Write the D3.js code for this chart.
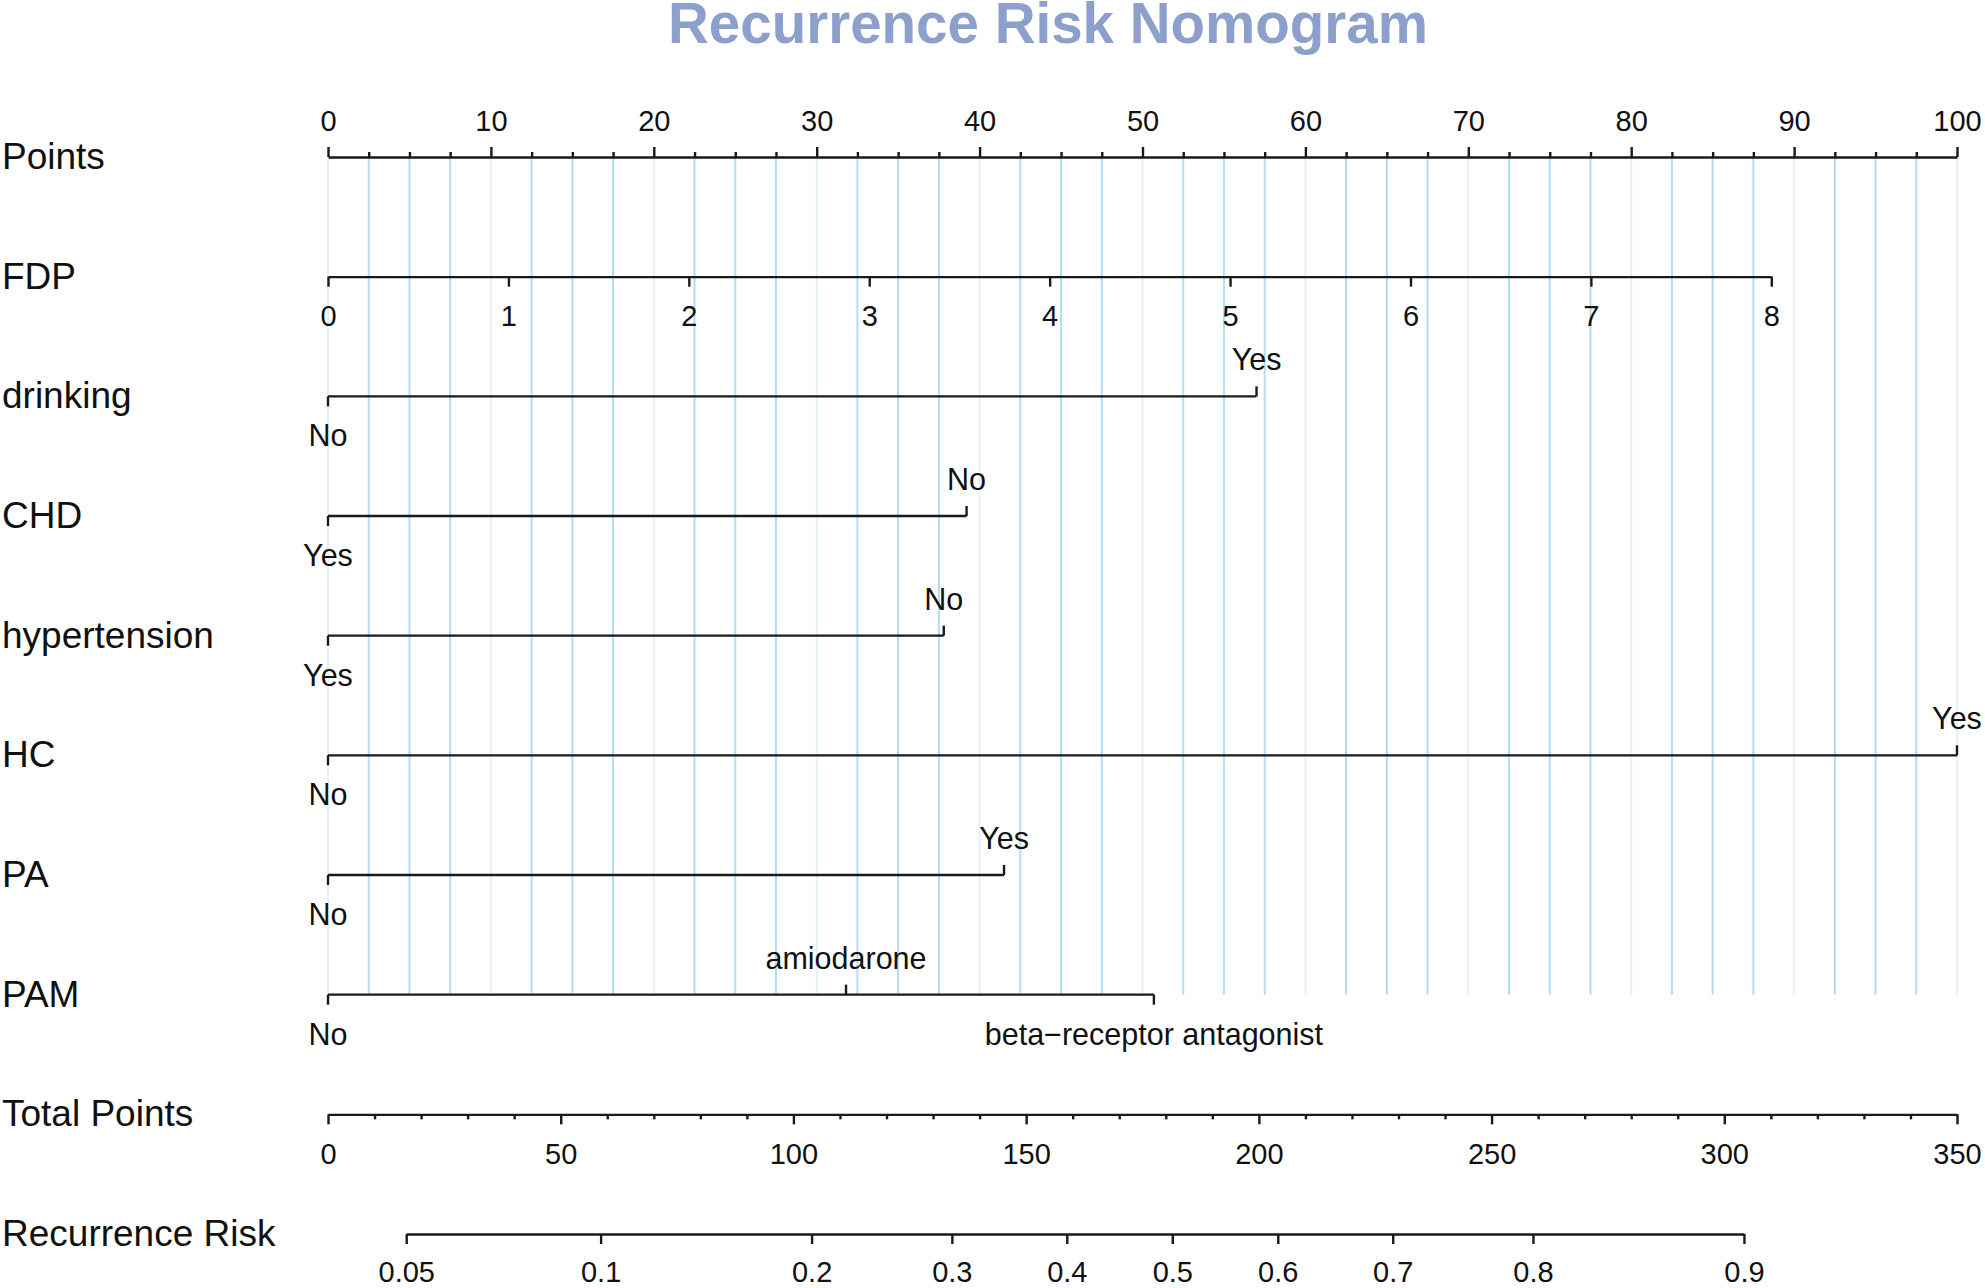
<!DOCTYPE html>
<html>
<head>
<meta charset="utf-8">
<script src="https://cdn.jsdelivr.net/npm/d3@7"></script>
<style>
  html, body { margin: 0; padding: 0; background: #fff; }
  svg text { font-family: "Liberation Sans", Arial, sans-serif; fill: #111; }
</style>
</head>
<body>
<svg id="chart" width="1985" height="1288"></svg>
<script>
// ---------------- data ----------------
const titleText = "Recurrence Risk Nomogram";
const rowLabels = ["Points", "FDP", "drinking", "CHD", "hypertension", "HC", "PA", "PAM", "Total Points", "Recurrence Risk"];

const pointsTicks = [0, 10, 20, 30, 40, 50, 60, 70, 80, 90, 100];
const pointsMinorStep = 2.5;

const fdpTicks = [0, 1, 2, 3, 4, 5, 6, 7, 8];
const fdpMaxPoints = 88.6;           // points at FDP = 8

const drinkingLevels = ["No", "Yes"];
const drinkingPoints = [0, 57.0];
const chdLevels = ["Yes", "No"];
const chdPoints = [0, 39.2];
const hypertensionLevels = ["Yes", "No"];
const hypertensionPoints = [0, 37.8];
const hcLevels = ["No", "Yes"];
const hcPoints = [0, 100];
const paLevels = ["No", "Yes"];
const paPoints = [0, 41.5];
const pamLevels = ["No", "amiodarone", "beta\u2212receptor antagonist"];
const pamPoints = [0, 31.8, 50.7];

const totalTicks = [0, 50, 100, 150, 200, 250, 300, 350];
const totalMinorStep = 10;

const riskTicks = [0.05, 0.1, 0.2, 0.3, 0.4, 0.5, 0.6, 0.7, 0.8, 0.9];
const riskLabels = ["0.05", "0.1", "0.2", "0.3", "0.4", "0.5", "0.6", "0.7", "0.8", "0.9"];
const totalAtRisk50 = 181.4;         // total points where risk = 0.5
const totalPerLogit = 55.9;          // total points per unit of log-odds

// ---------------- layout ----------------
const svg = d3.select("#chart");
const x = d3.scaleLinear().domain([0, 100]).range([328, 1957]);
const xTotal = d3.scaleLinear().domain([0, 350]).range([328, 1957]);
const rowY = d3.scaleLinear().domain([0, 9]).range([157, 1234]);

const LINE = "#1a1a1a";
const LW = 2.4;
const NUM_FS = 29;
const CAT_FS = 30.5;
const MAJOR = 10, MINOR = 5;

// title
svg.append("text")
  .attr("x", 1048).attr("y", 43)
  .attr("text-anchor", "middle")
  .style("font-size", "56.5px").style("font-weight", "bold")
  .style("fill", "#8DA0CB")
  .text(titleText);

// grid lines
const gridVals = d3.range(0, 100 + 1e-9, pointsMinorStep);
svg.append("g").selectAll("line").data(gridVals).join("line")
  .attr("x1", d => x(d)).attr("x2", d => x(d))
  .attr("y1", rowY(0)).attr("y2", rowY(7))
  .attr("stroke", d => (Math.abs(d % 10) < 1e-9) ? "#e2f1fa" : "#b2dcf3")
  .attr("stroke-width", 2);

// row labels
svg.append("g").selectAll("text").data(rowLabels).join("text")
  .attr("x", 2).attr("y", (d, i) => rowY(i) + 12)
  .style("font-size", "37px")
  .text(d => d);

function styleAxis(g) {
  g.select(".domain").attr("stroke", LINE).attr("stroke-width", LW);
  g.selectAll(".tick line").attr("stroke", LINE).attr("stroke-width", LW);
  g.selectAll(".tick text").style("font-size", NUM_FS + "px")
    .style("font-family", "'Liberation Sans', Arial, sans-serif").attr("fill", "#111");
}
function styleMinor(g) {
  g.select(".domain").remove();
  g.selectAll(".tick line").attr("stroke", LINE).attr("stroke-width", LW);
  g.selectAll(".tick text").remove();
}

// Points axis (top)
const pointsMinor = d3.range(0, 100 + 1e-9, pointsMinorStep).filter(v => pointsTicks.indexOf(v) < 0);
svg.append("g").attr("transform", `translate(0,${rowY(0)})`)
  .call(d3.axisTop(x).tickValues(pointsMinor).tickSize(MINOR).tickSizeOuter(0))
  .call(styleMinor);
svg.append("g").attr("transform", `translate(0,${rowY(0)})`)
  .call(d3.axisTop(x).tickValues(pointsTicks).tickSize(MAJOR).tickSizeOuter(0).tickPadding(16).tickFormat(d3.format("d")))
  .call(styleAxis);

// FDP axis (bottom)
const xFdp = d3.scaleLinear().domain([0, 8]).range([x(0), x(fdpMaxPoints)]);
svg.append("g").attr("transform", `translate(0,${rowY(1)})`)
  .call(d3.axisBottom(xFdp).tickValues(fdpTicks).tickSize(MAJOR).tickSizeOuter(0).tickPadding(19).tickFormat(d3.format("d")))
  .call(styleAxis);

// categorical rows
function catRow(rowIndex, levels, pts) {
  const y = rowY(rowIndex);
  const g = svg.append("g").attr("transform", `translate(0,${y})`);
  const items = levels.map((l, i) => ({ label: l, p: pts[i] }))
    .sort((a, b) => a.p - b.p)
    .map((d, i) => ({ ...d, below: i % 2 === 0 }));
  g.append("line")
    .attr("x1", x(d3.min(pts))).attr("x2", x(d3.max(pts)))
    .attr("y1", 0).attr("y2", 0)
    .attr("stroke", LINE).attr("stroke-width", LW);
  g.selectAll("line.tk").data(items).join("line").attr("class", "tk")
    .attr("x1", d => x(d.p)).attr("x2", d => x(d.p))
    .attr("y1", 0).attr("y2", d => d.below ? MAJOR : -MAJOR)
    .attr("stroke", LINE).attr("stroke-width", LW);
  g.selectAll("text").data(items).join("text")
    .attr("x", d => x(d.p))
    .attr("y", d => d.below ? 50 : -26)
    .attr("text-anchor", "middle")
    .style("font-size", CAT_FS + "px")
    .text(d => d.label);
}
catRow(2, drinkingLevels, drinkingPoints);
catRow(3, chdLevels, chdPoints);
catRow(4, hypertensionLevels, hypertensionPoints);
catRow(5, hcLevels, hcPoints);
catRow(6, paLevels, paPoints);
catRow(7, pamLevels, pamPoints);

// Total points axis
const totalMinor = d3.range(0, 350 + 1e-9, totalMinorStep).filter(v => totalTicks.indexOf(v) < 0);
svg.append("g").attr("transform", `translate(0,${rowY(8)})`)
  .call(d3.axisBottom(xTotal).tickValues(totalMinor).tickSize(MINOR).tickSizeOuter(0))
  .call(styleMinor);
svg.append("g").attr("transform", `translate(0,${rowY(8)})`)
  .call(d3.axisBottom(xTotal).tickValues(totalTicks).tickSize(MAJOR).tickSizeOuter(0).tickPadding(19).tickFormat(d3.format("d")))
  .call(styleAxis);

// Recurrence risk axis (logit scale)
const logit = p => Math.log(p / (1 - p));
const lo = logit(riskTicks[0]), hi = logit(riskTicks[riskTicks.length - 1]);
const xRisk = d3.scaleLinear().domain([lo, hi])
  .range([xTotal(totalAtRisk50 + totalPerLogit * lo), xTotal(totalAtRisk50 + totalPerLogit * hi)]);
svg.append("g").attr("transform", `translate(0,${rowY(9)})`)
  .call(d3.axisBottom(xRisk).tickValues(riskTicks.map(logit)).tickSize(MAJOR).tickSizeOuter(0).tickPadding(17)
    .tickFormat((d, i) => riskLabels[i]))
  .call(styleAxis);
</script>
</body>
</html>
